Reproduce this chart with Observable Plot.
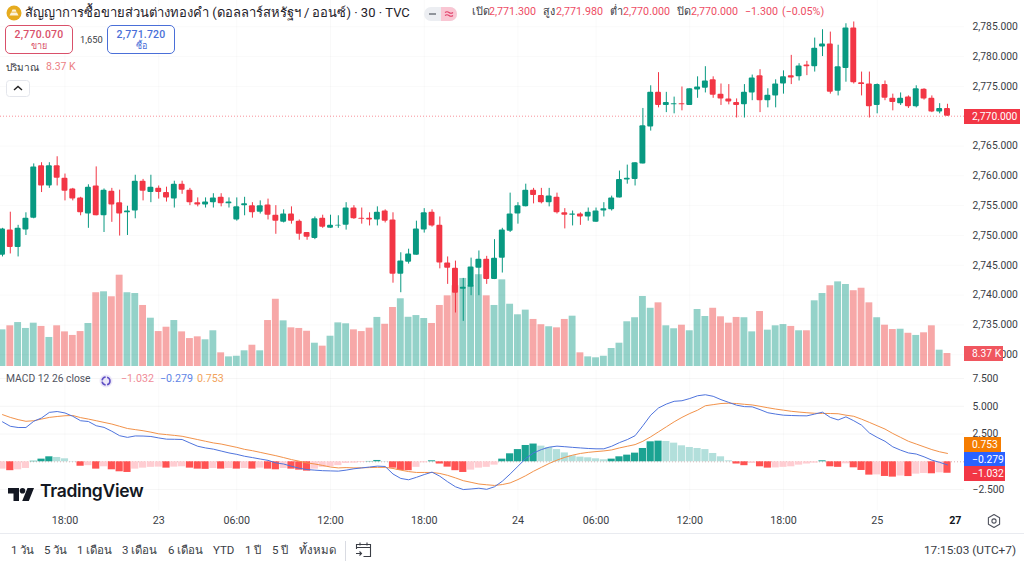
<!DOCTYPE html>
<html lang="th">
<head>
<meta charset="utf-8">
<script src="https://cdn.jsdelivr.net/npm/d3@7"></script>
<script src="https://cdn.jsdelivr.net/npm/@observablehq/plot@0.6"></script>
<style>
html,body{margin:0;padding:0;background:#fff;width:1024px;height:564px;overflow:hidden}
body{position:relative;font-family:Roboto,"Noto Sans",sans-serif;color:#3a3d45}
.pane{position:absolute;left:0}
.pane svg{background:transparent;display:block}
.t{position:absolute;white-space:nowrap;line-height:1}
.box{position:absolute;box-sizing:border-box;background:#fff;border-radius:5px;border:1px solid;text-align:center}
.tag{position:absolute;color:#fff;font-size:10.3px;line-height:15px;height:15px;left:964px;padding-left:8px;box-sizing:border-box;white-space:nowrap;overflow:hidden}
.ui{position:absolute}
</style>
</head>
<body>
<script>
const open = [
2746.7,2750.9,2748.0,2750.9,2752.9,2761.7,2758.3,2761.7,2759.6,2757.8,
2756.3,2753.6,2758.3,2753.3,2757.4,2755.5,2753.8,2754.1,2759.1,2757.2,
2757.9,2757.2,2756.1,2758.6,2757.6,2755.5,2755.1,2755.5,2756.4,2755.3,
2752.6,2755.0,2755.0,2753.9,2755.1,2753.4,2752.2,2753.6,2752.4,2750.5,
2749.5,2752.9,2751.2,2751.6,2751.7,2754.6,2752.9,2752.9,2752.6,2754.1,
2752.6,2743.5,2745.5,2746.7,2750.9,2753.9,2751.7,2745.4,2744.5,2741.0,
2741.3,2744.5,2746.0,2742.6,2746.2,2750.7,2753.6,2754.8,2757.6,2756.7,
2755.5,2756.4,2753.8,2753.4,2753.6,2753.1,2752.2,2754.1,2754.3,2756.3,
2759.3,2759.4,2762.0,2768.2,2774.0,2771.8,2771.9,2772.1,2771.8,2774.4,
2774.7,2776.1,2773.7,2772.9,2772.3,2771.9,2773.9,2776.8,2772.6,2773.4,
2775.4,2776.8,2776.6,2778.6,2778.3,2781.6,2782.1,2774.2,2778.0,2784.8,
2775.6,2775.4,2771.8,2775.3,2773.0,2772.1,2773.2,2771.6,2774.5,2773.0,
2770.7,2771.3];
const high = [
2751.2,2753.9,2751.7,2753.8,2762.0,2762.2,2762.2,2763.2,2760.3,2757.9,
2756.4,2758.5,2761.5,2757.8,2757.9,2757.6,2754.9,2760.1,2759.4,2760.1,
2758.3,2758.1,2759.1,2759.1,2757.9,2756.3,2756.3,2757.0,2757.0,2756.3,
2756.3,2756.4,2755.5,2755.8,2756.1,2755.0,2754.3,2754.8,2752.6,2750.5,
2753.1,2753.4,2753.4,2753.3,2755.5,2755.0,2754.6,2753.8,2754.8,2754.3,
2753.8,2747.1,2747.7,2752.4,2754.5,2754.3,2753.1,2746.4,2745.7,2742.8,
2746.2,2747.4,2746.5,2749.3,2751.2,2757.1,2755.5,2758.6,2757.9,2757.9,
2757.9,2757.1,2754.5,2754.1,2753.8,2754.6,2754.6,2755.5,2756.6,2760.8,
2761.8,2762.2,2771.3,2775.1,2777.3,2774.0,2773.2,2774.9,2774.6,2776.6,
2778.3,2776.6,2775.4,2775.3,2772.9,2775.3,2776.9,2777.8,2774.6,2776.1,
2777.6,2780.2,2778.8,2779.2,2783.1,2784.5,2784.1,2781.9,2785.5,2785.8,
2777.4,2777.4,2775.4,2775.9,2773.7,2773.9,2773.4,2775.1,2774.6,2773.4,
2772.1,2772.0];
const low = [
2746.4,2746.9,2746.4,2750.0,2752.8,2757.2,2757.9,2758.3,2755.8,2755.8,
2753.3,2751.2,2753.3,2750.5,2752.2,2749.9,2750.0,2752.8,2755.8,2755.5,
2756.1,2755.6,2754.6,2756.9,2755.0,2754.8,2754.6,2754.6,2754.8,2754.6,
2752.4,2753.3,2752.9,2753.6,2752.6,2750.2,2752.1,2751.9,2749.2,2749.2,
2749.3,2751.2,2751.2,2751.2,2750.9,2752.7,2751.9,2751.6,2751.6,2752.1,
2742.0,2740.4,2745.2,2746.7,2750.4,2751.4,2744.4,2741.8,2737.0,2735.6,
2739.9,2739.9,2741.8,2742.6,2743.7,2750.5,2751.9,2754.8,2755.3,2755.3,
2754.8,2753.6,2751.1,2751.6,2751.7,2752.4,2752.2,2753.1,2754.1,2756.3,
2758.6,2758.3,2762.0,2767.5,2771.4,2770.6,2770.4,2770.9,2771.8,2773.0,
2773.9,2773.0,2771.8,2771.9,2769.7,2769.7,2772.6,2770.6,2771.4,2771.4,
2773.7,2775.3,2775.9,2776.8,2777.4,2780.0,2773.7,2773.4,2775.7,2775.4,
2773.4,2769.7,2770.4,2772.6,2770.9,2771.8,2771.3,2771.4,2772.7,2770.6,
2770.4,2770.0];
const close = [
2751.1,2748.0,2751.2,2752.9,2761.5,2758.3,2761.7,2759.6,2757.4,2756.1,
2753.8,2758.1,2753.3,2757.6,2755.1,2753.6,2754.1,2759.1,2757.4,2758.1,
2757.2,2756.3,2758.6,2757.6,2755.5,2755.1,2755.6,2756.3,2755.3,2755.6,
2754.8,2755.3,2753.8,2755.0,2753.4,2752.4,2753.6,2752.4,2750.2,2749.7,
2752.8,2751.4,2751.7,2751.7,2754.6,2752.8,2752.7,2752.6,2753.9,2752.4,
2743.5,2745.7,2746.9,2751.1,2753.8,2751.6,2745.4,2744.5,2740.3,2741.3,
2744.7,2746.0,2742.6,2746.2,2750.9,2753.6,2755.0,2757.6,2756.7,2755.5,
2756.6,2753.8,2753.4,2753.6,2753.1,2753.9,2754.1,2754.5,2756.3,2759.4,
2759.6,2762.2,2768.4,2774.0,2771.8,2772.3,2772.1,2771.9,2774.6,2774.9,
2775.9,2773.5,2772.9,2772.4,2771.8,2774.0,2776.4,2772.6,2773.5,2775.4,
2776.6,2776.4,2778.4,2778.3,2781.4,2782.1,2774.0,2778.3,2784.8,2775.6,
2775.3,2771.6,2775.3,2773.0,2772.3,2773.0,2771.6,2774.6,2772.9,2770.7,
2771.3,2770.0];
const volume = [
23.6,26.2,28.3,24.5,27.9,25.8,18.7,26.2,22.3,20.0,
22.5,27.7,47.5,48.1,44.9,58.8,47.5,47.0,39.3,31.1,
22.5,25.3,29.6,22.3,18.0,19.1,17.2,23.0,8.8,6.2,
6.6,10.1,13.7,10.1,29.6,43.3,29.4,24.9,24.5,22.7,
15.0,13.1,19.5,28.1,27.5,23.6,22.5,24.7,31.6,27.2,
38.0,43.6,31.7,32.8,30.9,27.7,39.3,45.5,52.0,56.7,
52.0,59.1,45.5,39.3,55.8,40.1,33.3,36.3,30.3,26.9,
25.6,24.9,30.3,32.4,8.8,6.2,5.6,6.6,11.6,15.0,
28.8,31.4,45.1,37.5,41.0,26.2,24.3,26.6,23.0,36.7,
32.2,37.5,32.0,27.9,31.6,31.4,22.3,35.4,23.4,26.2,
27.0,25.8,23.0,23.0,42.3,47.0,52.0,54.5,52.8,48.8,
50.4,41.0,31.4,26.6,23.8,24.0,21.4,20.0,21.7,26.2,
10.5,8.37];
const histogram = [
-.66,-.8,-.72,-.6,.05,.24,.45,.39,.27,.03,
-.4,-.35,-.66,-.45,-.72,-.9,-.96,-.66,-.57,-.5,
-.48,-.57,-.48,-.45,-.57,-.66,-.68,-.6,-.66,-.6,
-.66,-.6,-.66,-.57,-.66,-.72,-.6,-.66,-.75,-.84,
-.66,-.5,-.45,-.35,-.15,-.12,-.06,.03,.12,.03,
-.57,-.78,-.8,-.5,-.09,.09,-.2,-.48,-.8,-.96,
-.75,-.57,-.5,-.3,.24,.72,1.1,1.47,1.6,1.41,
1.29,1.1,.8,.54,.42,.36,.27,.18,.24,.45,
.6,.78,1.2,1.8,1.86,1.83,1.68,1.44,1.29,1.2,
1.1,.75,.45,.09,-.2,-.35,-.15,-.45,-.57,-.55,
-.5,-.45,-.3,-.2,-.12,.09,-.45,-.5,-.18,-.54,
-.78,-1.2,-1.18,-1.32,-1.38,-1.28,-1.33,-1.11,-1.05,-1.08,
-.99,-1.032];
const macdLine = [
3.6,3.2,3.09,3.09,3.65,3.95,4.45,4.53,4.4,4.1,
3.7,3.63,3.25,3.1,2.75,2.35,2.2,2.33,2.32,2.28,
2.15,2.04,2.03,2.01,1.7,1.4,1.25,1.14,.97,.8,
.67,.5,.38,.25,.13,-.1,-.2,-.4,-.58,-.7,
-.75,-.8,-.82,-.84,-.75,-.63,-.55,-.47,-.39,-.42,
-1.1,-1.5,-1.62,-1.4,-1.15,-.93,-1.3,-1.8,-2.25,-2.5,
-2.45,-2.38,-2.48,-2.25,-1.75,-1.1,-.4,.3,.8,1.1,
1.32,1.41,1.36,1.3,1.25,1.2,1.17,1.17,1.4,1.73,
2.0,2.35,3.25,4.2,4.85,5.2,5.45,5.5,5.7,5.95,
6.04,5.9,5.6,5.35,5.1,4.97,4.95,4.7,4.42,4.3,
4.2,4.17,4.15,4.14,4.3,4.47,4.0,3.77,4.05,3.7,
3.3,2.6,2.2,1.85,1.35,1.05,.8,.7,.45,.15,
-.05,-.279];
const signalLine = [
4.25,4.0,3.8,3.65,3.7,3.85,4.0,4.08,4.15,4.17,
3.98,3.85,3.7,3.55,3.4,3.2,3.0,2.9,2.8,2.67,
2.52,2.45,2.38,2.3,2.15,2.0,1.85,1.7,1.6,1.45,
1.3,1.12,1.0,.85,.7,.55,.38,.2,.05,-.1,
-.2,-.33,-.47,-.55,-.52,-.55,-.54,-.52,-.5,-.5,
-.6,-.75,-.88,-.96,-.96,-.96,-1.05,-1.22,-1.45,-1.7,
-1.85,-2.0,-2.07,-2.13,-2.05,-1.9,-1.6,-1.25,-.85,-.5,
-.15,.15,.4,.6,.75,.85,.92,.98,1.07,1.25,
1.4,1.55,1.85,2.25,2.7,3.15,3.6,4.0,4.35,4.65,
5.05,5.15,5.25,5.28,5.25,5.18,5.12,5.0,4.87,4.75,
4.65,4.55,4.48,4.42,4.37,4.36,4.35,4.33,4.2,4.1,
3.84,3.55,3.25,2.95,2.55,2.2,1.85,1.6,1.35,1.1,
.9,.753];
const timeTickBars = [8,20,30,42,54,66,76,88,100,112];
const timeTickLabels = ["18:00","23","06:00","12:00","18:00","24","06:00","12:00","18:00","25"];
const priceTicks = [2730,2735,2740,2745,2750,2755,2760,2765,2775,2780,2785];
const macdTicks = [-2.5,2.5,5,7.5];
const lastPrice = 2770;
const rangeLabels = ["1 วัน","5 วัน","1 เดือน","3 เดือน","6 เดือน","YTD","1 ปี","5 ปี","ทั้งหมด"];
const rangeLeft = [11,44,77,122,168,213,245,272,299];

const UP = "#089981", DOWN = "#f23645";
const candles = open.map((o, i) => ({i, o, h: high[i], l: low[i], c: close[i], v: volume[i], dir: close[i] >= o ? "up" : "down"}));
const hist = histogram.map((v, i) => {
  const prev = i ? histogram[i - 1] : v;
  const rising = v >= prev;
  return {i, v, state: v >= 0 ? (rising ? "up+" : "up-") : (rising ? "dn-" : "dn+")};
});
const lineOf = arr => arr.map((v, i) => ({i, v}));
const fmtMinus = f => v => f(v).replace("-", "\u2212");

const xCommon = {type: "linear", domain: [-0.256, 123.18], range: [0, 964]};
const font = 'Roboto, "Noto Sans", sans-serif';
const baseStyle = {fontFamily: font, fontSize: "11px", color: "#3a3d45", background: "transparent", overflow: "visible"};

function mount(svg, top) {
  const d = document.createElement("div");
  d.className = "pane";
  d.style.top = top + "px";
  d.appendChild(svg);
  document.body.appendChild(d);
}

// volume pane (under the candles)
mount(Plot.plot({
  width: 1024, height: 366, marginTop: 0, marginBottom: 0, marginLeft: 0, marginRight: 60,
  style: baseStyle,
  x: {...xCommon, axis: null},
  y: {domain: [0, 235.7], range: [366, 0], axis: null},
  color: {domain: ["up", "down"], range: ["#94d2c9", "#f7a8a8"]},
  marks: [
    Plot.rectY(candles, {x1: d => d.i - 0.44, x2: d => d.i + 0.44, y1: 0, y2: "v", fill: "dir"})
  ]
}), 0);

// price pane
mount(Plot.plot({
  width: 1024, height: 366, marginTop: 0, marginBottom: 0, marginLeft: 0, marginRight: 60,
  style: baseStyle,
  x: {...xCommon, axis: null},
  y: {domain: [2728.03, 2789.4], range: [366, 0], axis: null},
  color: {domain: ["up", "down"], range: [UP, DOWN]},
  marks: [
    Plot.gridY(priceTicks, {stroke: "#000", strokeOpacity: 0.025}),
    Plot.gridX(timeTickBars, {stroke: "#000", strokeOpacity: 0.025}),
    Plot.ruleY([lastPrice], {stroke: DOWN, strokeOpacity: 0.55, strokeDasharray: "1,2"}),
    Plot.ruleX(candles, {x: "i", y1: "l", y2: "h", stroke: "dir", strokeWidth: 1}),
    Plot.rect(candles, {x1: d => d.i - 0.38, x2: d => d.i + 0.38, y1: "o", y2: "c", fill: "dir", rx: 1}),
    Plot.axisY({anchor: "right", ticks: priceTicks, tickSize: 0, tickPadding: 8,
      tickFormat: d3.format(",.3f"), label: null, fontSize: 10.3, fill: "#3a3d45"})
  ]
}), 0);

// MACD pane with the time axis
mount(Plot.plot({
  width: 1024, height: 163, marginTop: 0, marginBottom: 23, marginLeft: 0, marginRight: 60,
  style: baseStyle,
  x: {...xCommon, axis: null},
  y: {domain: [-4.387, 8.225], range: [140, 0], axis: null},
  color: {domain: ["up+", "up-", "dn+", "dn-"], range: ["#1ba392", "#b2dfdb", "#ff5252", "#ffcdd2"]},
  marks: [
    Plot.gridY([2.5, 5, 7.5, -2.5], {stroke: "#000", strokeOpacity: 0.04}),
    Plot.gridX(timeTickBars, {stroke: "#000", strokeOpacity: 0.025}),
    Plot.ruleY([0], {stroke: "#d9b0b0", strokeDasharray: "1,2"}),
    Plot.rectY(hist, {x1: d => d.i - 0.46, x2: d => d.i + 0.46, y1: 0, y2: "v", fill: "state"}),
    Plot.line(lineOf(signalLine), {x: "i", y: "v", stroke: "#f2924a", strokeWidth: 1}),
    Plot.line(lineOf(macdLine), {x: "i", y: "v", stroke: "#4f74dd", strokeWidth: 1}),
    Plot.axisY({anchor: "right", ticks: macdTicks, tickSize: 0, tickPadding: 8,
      tickFormat: fmtMinus(d3.format(".3f")), label: null, fontSize: 10.3, fill: "#3a3d45"}),
    Plot.axisX({anchor: "bottom", ticks: timeTickBars, tickSize: 0, tickPadding: 6, label: null,
      tickFormat: d => timeTickLabels[timeTickBars.indexOf(d)], fontSize: 10.7, fill: "#3a3d45"}),
    Plot.axisX({anchor: "bottom", ticks: [122], tickSize: 0, tickPadding: 6, label: null,
      tickFormat: () => "27", fontSize: 10.7, fontWeight: 700, fill: "#131722"})
  ]
}), 370);

// --- HTML overlay ---
function text(str, left, cy, size, color, extra) {
  const e = document.createElement("div");
  e.className = "t";
  e.textContent = str;
  e.style.cssText = `left:${left}px;top:${cy - size * 0.55}px;font-size:${size}px;color:${color};${extra || ""}`;
  document.body.appendChild(e);
  return e;
}
function tag(str, top, width, bg) {
  const e = document.createElement("div");
  e.className = "tag";
  e.textContent = str;
  e.style.top = top + "px";
  e.style.width = width + "px";
  e.style.background = bg;
  document.body.appendChild(e);
}
function ui(left, top, w, h, inner) {
  const e = document.createElement("div");
  e.className = "ui";
  e.style.cssText = `left:${left}px;top:${top}px;width:${w}px;height:${h}px`;
  e.innerHTML = inner;
  document.body.appendChild(e);
}
function box(left, top, w, h, col, a, b) {
  const e = document.createElement("div");
  e.className = "box";
  e.style.cssText = `left:${left}px;top:${top}px;width:${w}px;height:${h}px;border-color:${col}`;
  document.body.appendChild(e);
  text(a, left, top + 10.5, 10.5, col, `width:${w}px;text-align:center;font-weight:500;letter-spacing:.2px`);
  text(b, left, top + 21.5, 9, col, `width:${w}px;text-align:center`);
}

// header
ui(6, 5, 16, 16, `<svg width="16" height="16"><circle cx="8" cy="8" r="7.5" fill="#e6ab1e"/><path d="M5 7.5h6l1.5 3h-9z" fill="#fff" fill-opacity=".85"/><path d="M6.5 4.5h3l1 2.2h-5z" fill="#fff" fill-opacity=".85"/></svg>`);
text("สัญญาการซื้อขายส่วนต่างทองคำ (ดอลลาร์สหรัฐฯ / ออนซ์) · 30 · TVC", 25, 13, 13, "#1f2229", "");
ui(424, 6, 33, 14, `<svg width="33" height="14"><rect width="33" height="14" rx="7" fill="#eceef2"/><path d="M17 0h9a7 7 0 0 1 0 14h-9z" fill="#f9c6d3"/><path d="M5 7h7" stroke="#7a7d85" stroke-width="1.6"/><path d="M21 5.5q2-1.5 4 0t4 0M21 8.5q2-1.5 4 0t4 0" stroke="#e0406a" stroke-width="1.1" fill="none"/></svg>`);
const RED = "#ee4d64";
[["เปิด",472],["สูง",543],["ต่ำ",610],["ปิด",677]].forEach(([s, x]) => text(s, x, 13, 10.8, "#3a3d45", ""));
[["2,771.300",489],["2,771.980",556],["2,770.000",623],["2,770.000",691],["−1.300",745],["(−0.05%)",782]]
  .forEach(([s, x]) => text(s, x, 13, 10.7, RED, ""));

box(5, 25, 68, 29, "#d9506a", "2,770.070", "ขาย");
text("1,650", 80, 40, 9.3, "#3a3d45", "");
box(107, 25, 68, 29, "#4a6fd8", "2,771.720", "ซื้อ");
text("ปริมาณ", 6, 68, 10, "#3a3d45", "");
text("8.37 K", 46, 68, 10.5, "#ec7f84", "");
ui(6, 80, 24, 17, `<svg width="24" height="17"><rect x=".5" y=".5" width="23" height="16" rx="3" fill="#fff" stroke="#e4e6ec"/><path d="M8 10l4-3.5 4 3.5" stroke="#222" stroke-width="1.4" fill="none"/></svg>`);

// price-scale tags
tag("2,770.000", 109, 56, "#f23645");
tag("8.37 K", 346, 39, "#f0565f");
tag("0.753", 437, 37, "#f57c00");
tag("−0.279", 452, 41, "#2962ff");
tag("−1.032", 466, 41, "#f23645");

// MACD legend
text("MACD 12 26 close", 6, 380, 10.3, "#50535e", "");
ui(99, 373, 14, 14, `<svg width="14" height="14"><circle cx="7" cy="7" r="6.5" fill="#ece8f8"/><circle cx="7" cy="7" r="4" fill="none" stroke="#5e4fc4" stroke-width="1.6" stroke-dasharray="5 1.5"/></svg>`);
text("−1.032", 121, 380, 10.7, "#f08c98", "");
text("−0.279", 160, 380, 10.7, "#5f85e6", "");
text("0.753", 197, 380, 10.7, "#f2a35c", "");

// TradingView logo
ui(8, 486, 26, 13, `<svg width="26" height="13" viewBox="0 0 26 13"><path d="M0 0h11v13H5.5V5.5H0z" fill="#131722"/><circle cx="14.5" cy="2.8" r="2.8" fill="#131722"/><path d="M19.5 0H26l-5.2 13h-6.6z" fill="#131722"/></svg>`);
text("TradingView", 40, 492, 17.5, "#131722", "font-family:Inter,Roboto,sans-serif;font-weight:600;letter-spacing:-.3px");

// settings icon
ui(986, 513, 16, 16, `<svg width="16" height="16"><path d="M8 1.5l5.6 3.2v6.6L8 14.5l-5.6-3.2V4.7z" fill="none" stroke="#50535e" stroke-width="1.1" stroke-linejoin="round"/><circle cx="8" cy="8" r="2.1" fill="none" stroke="#50535e" stroke-width="1.1"/></svg>`);

// bottom bar
ui(0, 533, 1024, 1, `<div style="height:1px;background:#e9ebf0"></div>`);
rangeLabels.forEach((s, i) => text(s, rangeLeft[i], 551, 11.5, "#3a3d45", ""));
ui(345, 541, 1, 20, `<div style="height:20px;background:#d9dbe2"></div>`);
ui(355, 541, 18, 18, `<svg width="18" height="18" fill="none" stroke="#3a3d45" stroke-width="1.1"><path d="M1.5 8V3.5h14v12H8.5M1.5 6.5h14M5 1.5v3M12 1.5v3M1 12.5h5.5M4.5 10.5l2 2-2 2"/></svg>`);
const clock = text("17:15:03 (UTC+7)", 0, 551, 11.8, "#3a3d45", "");
clock.style.left = "auto"; clock.style.right = "8px";
</script>
</body>
</html>
